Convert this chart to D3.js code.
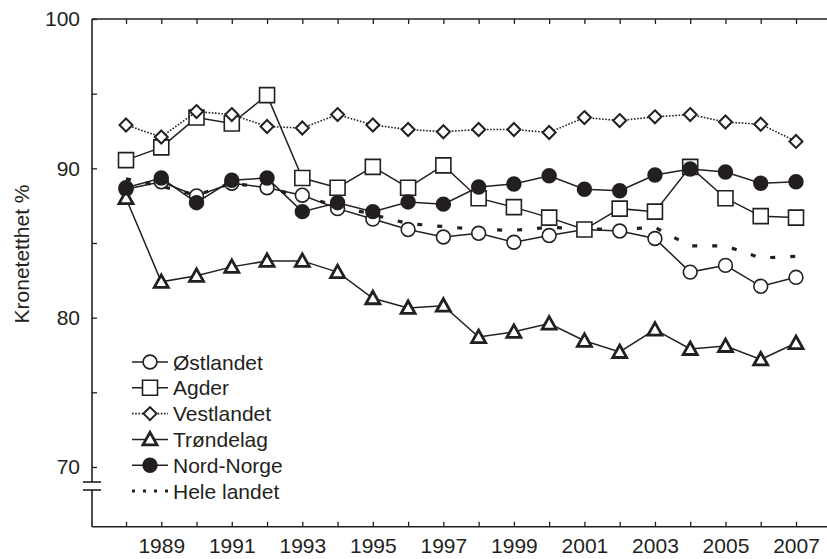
<!DOCTYPE html>
<html>
<head>
<meta charset="utf-8">
<script src="https://cdn.jsdelivr.net/npm/d3@7"></script>
<style>
  body { margin: 0; background: #fff; }
  svg { display: block; }
  text { font-family: "Liberation Sans", Arial, sans-serif; fill: #231f20; }
</style>
</head>
<body>
<svg id="chart" width="827" height="559"></svg>
<script>
// Years and values (kronetetthet %)
var years = d3.range(1988, 2008);
var ostlandet  = [88.6, 89.1, 88.15, 89.0, 88.7, 88.2, 87.3, 86.6, 85.9, 85.4, 85.65, 85.05, 85.5, 85.9, 85.8, 85.3, 83.05, 83.5, 82.1, 82.7];
var agder      = [90.55, 91.4, 93.4, 93.0, 94.9, 89.35, 88.7, 90.1, 88.7, 90.2, 88.0, 87.4, 86.7, 85.9, 87.3, 87.1, 90.1, 88.0, 86.8, 86.7];
var vestlandet = [92.9, 92.1, 93.8, 93.6, 92.8, 92.7, 93.6, 92.9, 92.6, 92.45, 92.6, 92.6, 92.4, 93.4, 93.2, 93.45, 93.6, 93.1, 92.95, 91.8];
var trondelag  = [88.0, 82.4, 82.8, 83.4, 83.8, 83.8, 83.05, 81.3, 80.65, 80.8, 78.7, 79.05, 79.6, 78.45, 77.7, 79.2, 77.9, 78.1, 77.2, 78.3];
var nordnorge  = [88.7, 89.35, 87.7, 89.2, 89.35, 87.1, 87.7, 87.1, 87.75, 87.6, 88.75, 88.95, 89.5, 88.6, 88.5, 89.55, 89.95, 89.75, 89.0, 89.1];
var helelandet = [89.3, 88.8, 88.2, 89.0, 88.7, 88.1, 87.5, 86.9, 86.3, 86.1, 85.9, 85.85, 86.05, 85.95, 85.9, 86.05, 84.8, 84.8, 84.0, 84.1];

var yTicks = [70, 75, 80, 85, 90, 95, 100];
var xLabels = [1989, 1991, 1993, 1995, 1997, 1999, 2001, 2003, 2005, 2007];

var ink = "#231f20";
var fs = 21;
var svg = d3.select("#chart");

// Scales
var x = d3.scaleLinear().domain([1988, 2007]).range([126, 796]);
var y = d3.scaleLinear().domain([66, 100]).range([526.7, 19]);
var axisX = 92;

// Serier: rekkefølge = tegnerekkefølge
var series = [
  {name: "Hele landet", values: helelandet, marker: null, dash: "5,15", width: 3.2},
  {name: "Østlandet", values: ostlandet, marker: "circle", fill: "#fff", dash: null, width: 1.5},
  {name: "Agder", values: agder, marker: "square", fill: "#fff", dash: null, width: 1.5},
  {name: "Vestlandet", values: vestlandet, marker: "diamond", fill: "#fff", dash: "1.6,1.6", width: 1.6},
  {name: "Trøndelag", values: trondelag, marker: "triangle", fill: "#fff", dash: null, width: 1.5},
  {name: "Nord-Norge", values: nordnorge, marker: "circle", fill: ink, dash: null, width: 1.5}
];
var legendOrder = ["Østlandet", "Agder", "Vestlandet", "Trøndelag", "Nord-Norge", "Hele landet"];

function markerPath(type) {
  if (type === "circle") return d3.symbol(d3.symbolCircle, 150)();
  if (type === "square") return "M-7.5,-7.5H7.5V7.5H-7.5Z";
  if (type === "diamond") return "M0,-6.5L6.5,0L0,6.5L-6.5,0Z";
  if (type === "triangle") return "M0,-7L7,5.5H-7Z";
  return null;
}
function markerStroke(type) {
  if (type === "diamond") return 2;
  if (type === "triangle") return 2.8;
  return 1.6;
}

// Axes
var gLeft = svg.append("g").attr("transform", "translate(" + axisX + ",0)")
  .call(d3.axisLeft(y).tickValues(yTicks).tickSize(-5).tickPadding(12)
    .tickFormat(function(d) { return d % 10 === 0 ? d : ""; }));
gLeft.select(".domain").remove();
gLeft.selectAll("line").attr("stroke", ink).attr("stroke-width", 1.3);
gLeft.selectAll("text").attr("font-size", fs).style("font-family", null);

var gBottom = svg.append("g").attr("transform", "translate(0," + y(66) + ")")
  .call(d3.axisBottom(x).tickValues(years).tickSize(-5).tickPadding(11)
    .tickFormat(function(d) { return xLabels.indexOf(d) >= 0 ? d : ""; }));
gBottom.select(".domain").remove();
gBottom.selectAll("line").attr("stroke", ink).attr("stroke-width", 1.3);
gBottom.selectAll("text").attr("font-size", fs).style("font-family", null);

var gTop = svg.append("g").attr("transform", "translate(0," + y(100) + ")")
  .call(d3.axisTop(x).tickValues(years).tickSize(-5).tickFormat(""));
gTop.select(".domain").remove();
gTop.selectAll("line").attr("stroke", ink).attr("stroke-width", 1.3);

// Rammelinjer med brudd
var frame = svg.append("g").attr("stroke", ink).attr("stroke-width", 1.6).attr("fill", "none");
frame.append("line").attr("x1", axisX).attr("x2", 827).attr("y1", y(100)).attr("y2", y(100));
frame.append("line").attr("x1", axisX).attr("x2", 827).attr("y1", y(66)).attr("y2", y(66));
frame.append("line").attr("x1", axisX).attr("x2", axisX).attr("y1", y(100)).attr("y2", 482);
frame.append("line").attr("x1", axisX).attr("x2", axisX).attr("y1", 490).attr("y2", y(66));
frame.append("line").attr("x1", 83).attr("x2", 101).attr("y1", 482).attr("y2", 482);
frame.append("line").attr("x1", 83).attr("x2", 101).attr("y1", 490).attr("y2", 490);

// Y-tittel
svg.append("text")
  .attr("transform", "translate(21," + 254 + ") rotate(-90)")
  .attr("text-anchor", "middle").attr("dominant-baseline", "central")
  .attr("font-size", fs).text("Kronetetthet %");

// Linjer og markører
var line = d3.line().x(function(d, i) { return x(years[i]); }).y(function(d) { return y(d); });

series.forEach(function(s) {
  var g = svg.append("g");
  g.append("path").datum(s.values)
    .attr("d", line).attr("fill", "none").attr("stroke", ink)
    .attr("stroke-width", s.width)
    .attr("stroke-dasharray", s.dash);
  if (s.marker) {
    g.selectAll("path.mk").data(s.values).enter().append("path")
      .attr("class", "mk")
      .attr("d", markerPath(s.marker))
      .attr("transform", function(d, i) { return "translate(" + x(years[i]) + "," + y(d) + ")"; })
      .attr("fill", s.fill).attr("stroke", ink).attr("stroke-width", markerStroke(s.marker));
  }
});

// Tegnforklaring
var legend = svg.append("g");
legendOrder.forEach(function(name, i) {
  var s = series.filter(function(t) { return t.name === name; })[0];
  var ly = 362 + i * 25.8;
  var row = legend.append("g").attr("transform", "translate(0," + ly + ")");
  if (s.marker) {
    row.append("line").attr("x1", 132).attr("x2", 168).attr("y1", 0).attr("y2", 0)
      .attr("stroke", ink).attr("stroke-width", s.width).attr("stroke-dasharray", s.dash);
    row.append("path").attr("d", markerPath(s.marker))
      .attr("transform", "translate(150,0)")
      .attr("fill", s.fill).attr("stroke", ink).attr("stroke-width", markerStroke(s.marker));
  } else {
    row.append("line").attr("x1", 132).attr("x2", 172).attr("y1", 0).attr("y2", 0)
      .attr("stroke", ink).attr("stroke-width", 3).attr("stroke-dasharray", "3,8");
  }
  row.append("text").attr("x", 173).attr("y", 0).attr("dominant-baseline", "central")
    .attr("font-size", fs).text(name);
});
</script>
</body>
</html>
